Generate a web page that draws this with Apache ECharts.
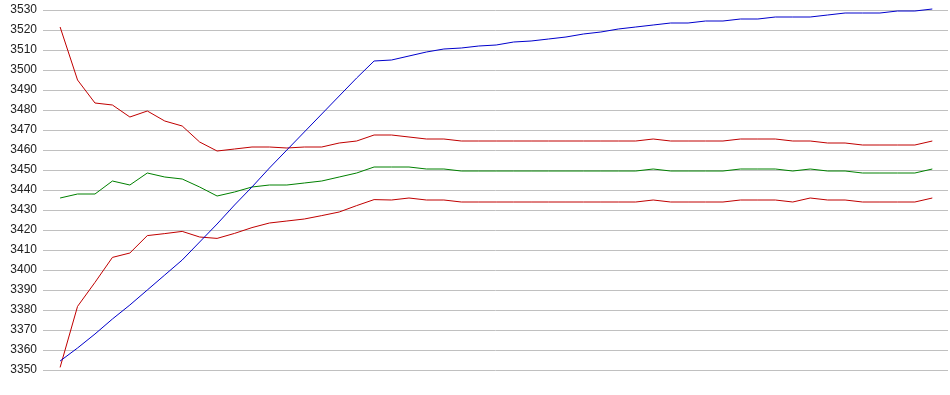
<!DOCTYPE html>
<html>
<head>
<meta charset="utf-8">
<script src="https://cdn.jsdelivr.net/npm/echarts@6/dist/echarts.min.js"></script>
<style>
html,body{margin:0;padding:0;background:#fff;}
#chart{width:950px;height:395px;}
</style>
</head>
<body>
<div id="chart"></div>
<script>
// point index (x positions, no visible labels)
var pointIndex = [];
for (var k = 0; k < 51; k++) pointIndex.push(k);

var yTicks = [3350,3360,3370,3380,3390,3400,3410,3420,3430,3440,3450,3460,3470,3480,3490,3500,3510,3520,3530];

var upperRed = [3521.5,3495,3483.5,3482.5,3476.5,3479.5,3474.5,3472,3464,3459.5,
  3460.5,3461.5,3461.5,3461,3461.5,3461.5,3463.5,3464.5,3467.5,3467.5,
  3466.5,3465.5,3465.5,3464.5,3464.5,3464.5,3464.5,3464.5,3464.5,3464.5,
  3464.5,3464.5,3464.5,3464.5,3465.5,3464.5,3464.5,3464.5,3464.5,3465.5,
  3465.5,3465.5,3464.5,3464.5,3463.5,3463.5,3462.5,3462.5,3462.5,3462.5,3464.5];

var middleGreen = [3436,3438,3438,3444.5,3442.5,3448.5,3446.5,3445.5,3441.5,3437,
  3439,3441.5,3442.5,3442.5,3443.5,3444.5,3446.5,3448.5,3451.5,3451.5,
  3451.5,3450.5,3450.5,3449.5,3449.5,3449.5,3449.5,3449.5,3449.5,3449.5,
  3449.5,3449.5,3449.5,3449.5,3450.5,3449.5,3449.5,3449.5,3449.5,3450.5,
  3450.5,3450.5,3449.5,3450.5,3449.5,3449.5,3448.5,3448.5,3448.5,3448.5,3450.5];

var lowerRed = [3351.3,3381.8,3393.8,3406.3,3408.5,3417.2,3418.2,3419.3,3416.5,3415.8,
  3418.3,3421.2,3423.5,3424.5,3425.5,3427.2,3429,3432.2,3435.2,3435,
  3436,3435,3435,3434,3434,3434,3434,3434,3434,3434,
  3434,3434,3434,3434,3435,3434,3434,3434,3434,3435,
  3435,3435,3434,3436,3435,3435,3434,3434,3434,3434,3436];

var blueLine = [3354.5,3361,3368,3375.5,3382.5,3390,3397.5,3405,3414,3423,
  3432.5,3441.5,3451,3460,3469,3478,3487,3496,3504.5,3505,
  3507,3509,3510.5,3511,3512,3512.5,3514,3514.5,3515.5,3516.5,
  3518,3519,3520.5,3521.5,3522.5,3523.5,3523.5,3524.5,3524.5,3525.5,
  3525.5,3526.5,3526.5,3526.5,3527.5,3528.5,3528.5,3528.5,3529.5,3529.5,3530.5];

function pairs(arr){ return arr.map(function(v,i){ return [pointIndex[i], v]; }); }

function lineSeries(name, arr, color){
  return {
    name: name, type: 'line', data: pairs(arr), showSymbol: false, symbol: 'none',
    clip: false, animation: false,
    lineStyle: { color: color, width: 1 },
    itemStyle: { color: color }
  };
}

var chart = echarts.init(document.getElementById('chart'), null, {renderer: 'canvas'});
chart.setOption({
  animation: false,
  backgroundColor: '#ffffff',
  grid: { left: 43, right: 2, top: 10, bottom: 25, containLabel: false },
  xAxis: {
    type: 'value', min: -0.98, max: 50.9,
    axisLine: { show: false }, axisTick: { show: false },
    axisLabel: { show: false }, splitLine: { show: false }
  },
  yAxis: {
    type: 'value', min: yTicks[0], max: yTicks[yTicks.length - 1], interval: 10,
    axisLine: { show: false }, axisTick: { show: false },
    axisLabel: { color: '#222222', fontSize: 12, fontFamily: 'Liberation Sans, Arial, sans-serif', margin: 6,
      formatter: function (v) { return String(v); } },
    splitLine: { show: true, lineStyle: { color: '#c0c0c0', width: 1 } }
  },
  series: [
    lineSeries('upper', upperRed, '#c00000'),
    lineSeries('middle', middleGreen, '#008000'),
    lineSeries('lower', lowerRed, '#c00000'),
    lineSeries('blue', blueLine, '#0000cc')
  ]
});
</script>
</body>
</html>
